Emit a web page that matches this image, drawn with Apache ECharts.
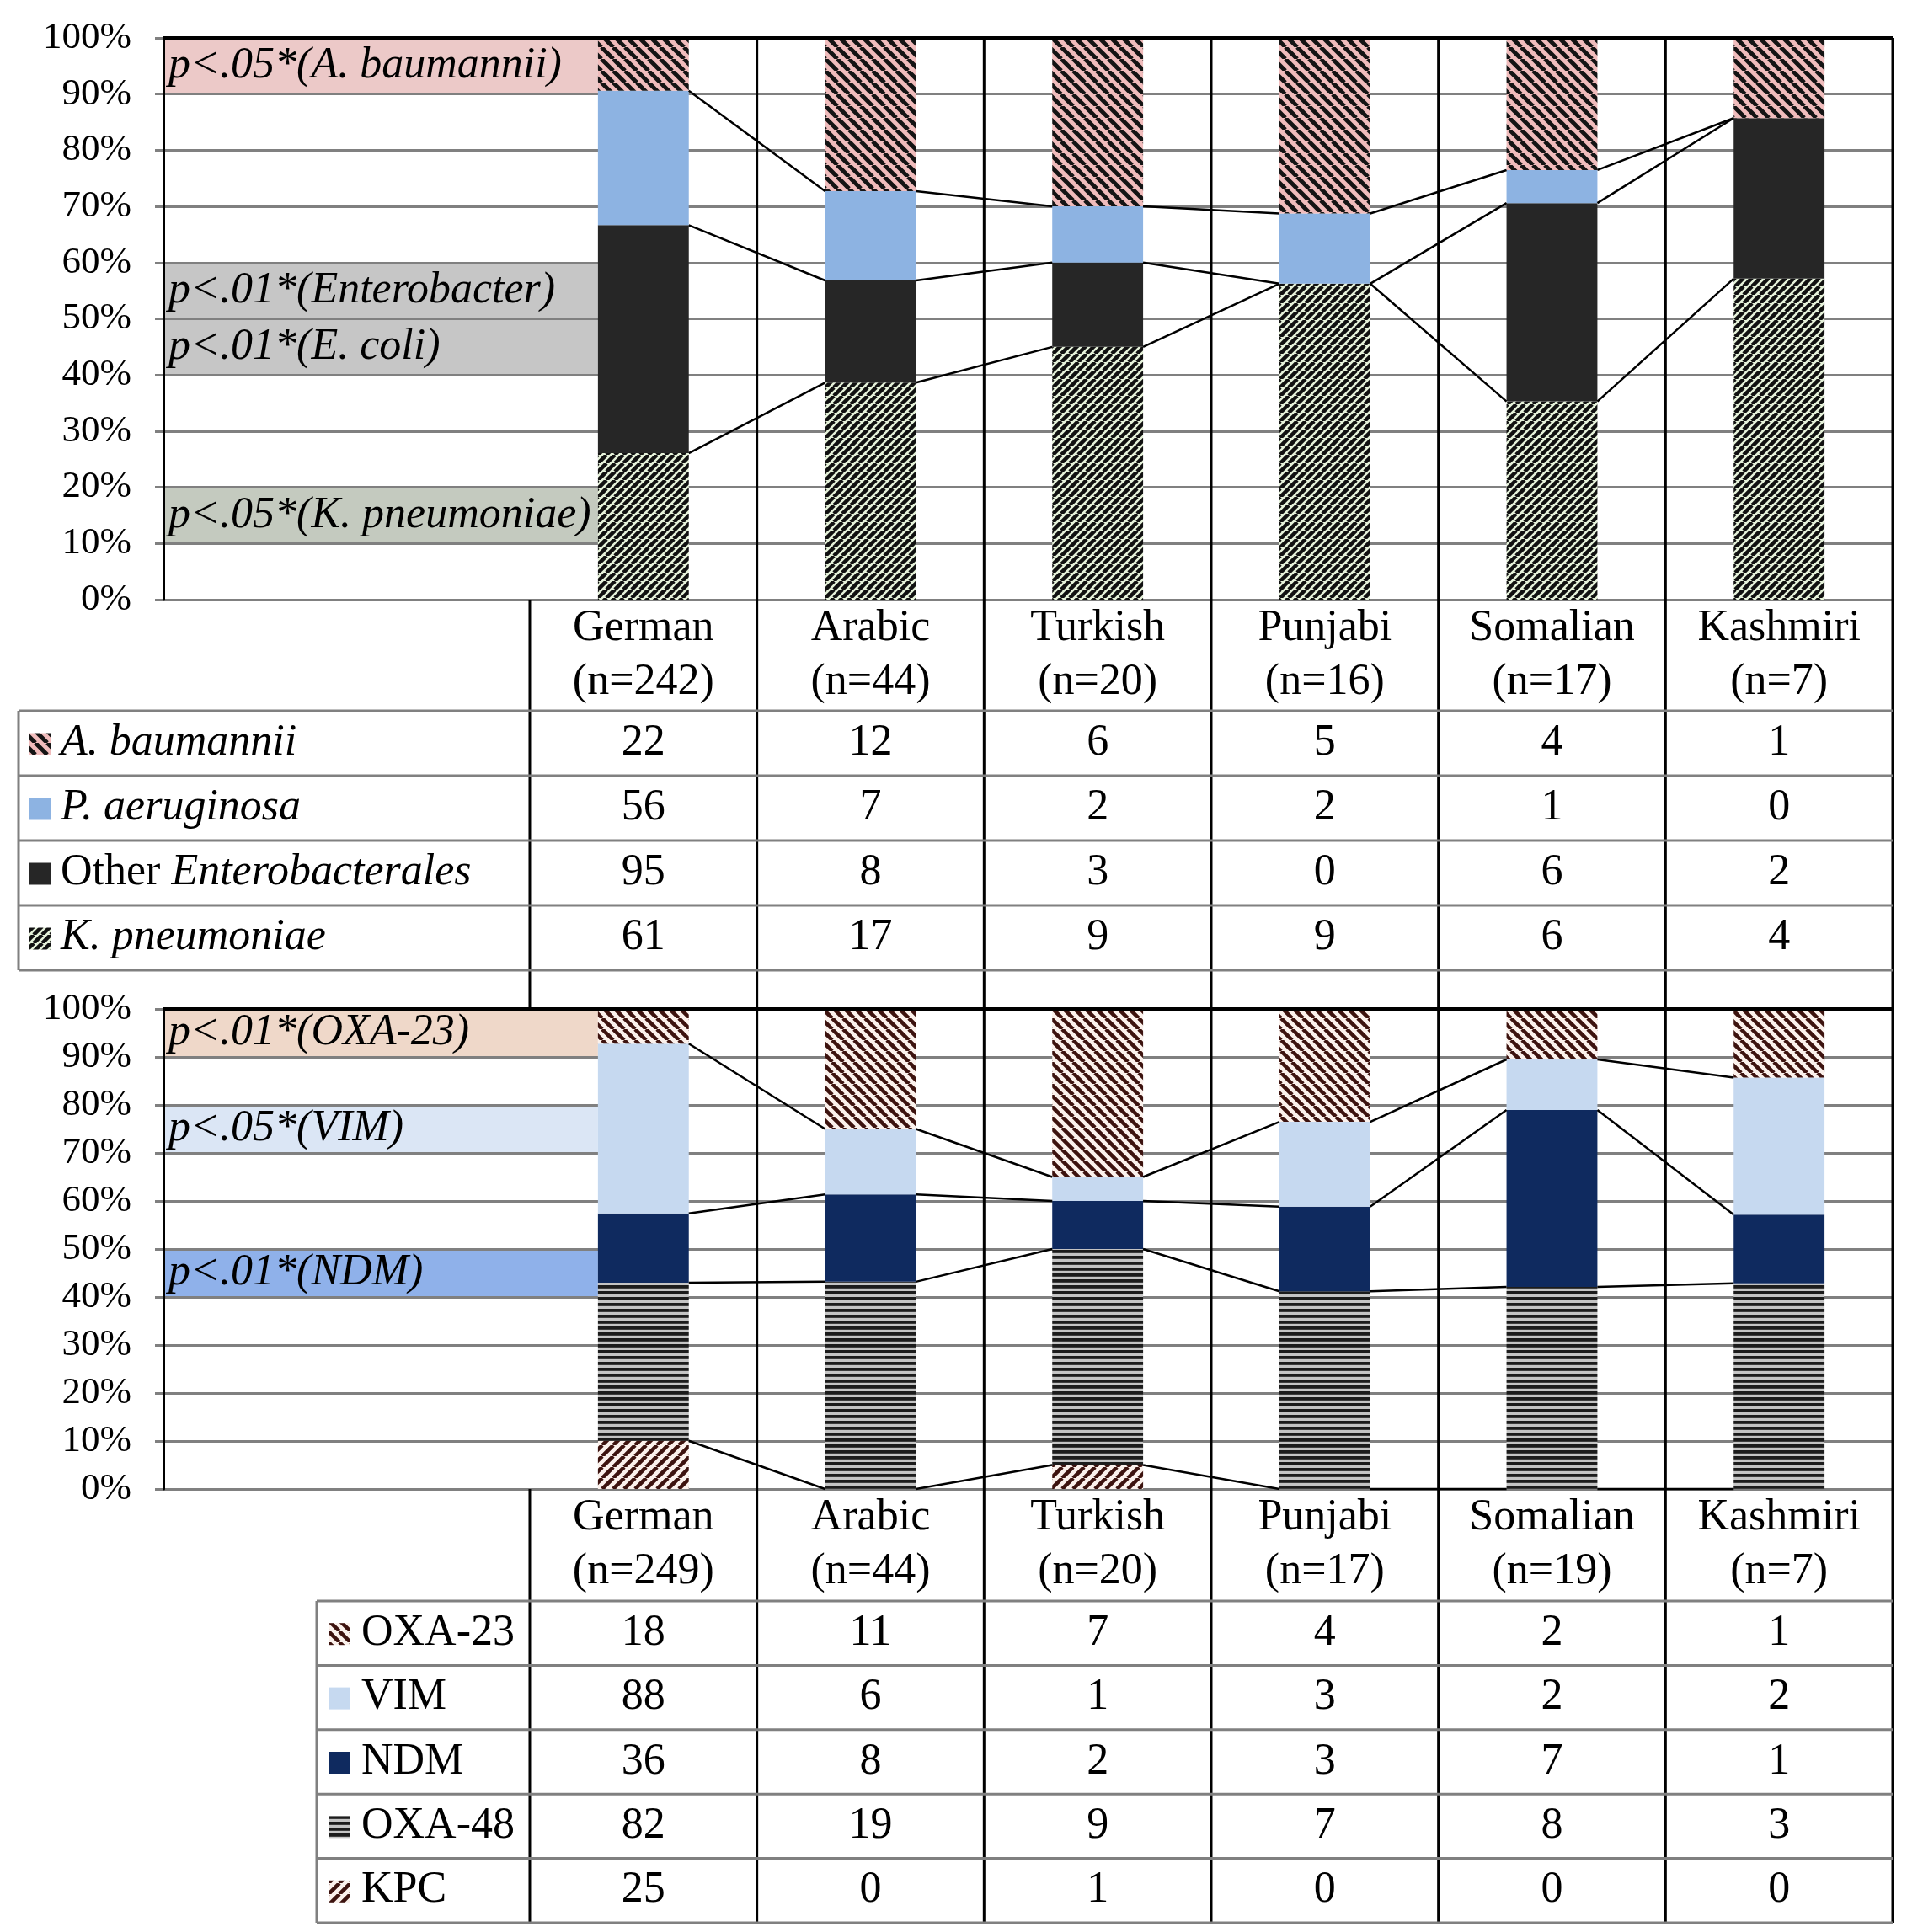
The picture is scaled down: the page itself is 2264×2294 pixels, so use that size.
<!DOCTYPE html>
<html>
<head>
<meta charset="utf-8">
<title>Species and carbapenemases by language group</title>
<script src="https://cdn.jsdelivr.net/npm/echarts@6/dist/echarts.min.js"></script>
<style>
  html, body { margin: 0; padding: 0; background: #fff; }
  #main { width: 2264px; height: 2294px; }
</style>
</head>
<body>
<div id="main"></div>
<script>
// ---- data: counts ----
const groups = ['German', 'Arabic', 'Turkish', 'Punjabi', 'Somalian', 'Kashmiri'];
const nSpecies = [242, 44, 20, 16, 17, 7];
const nGenes = [249, 44, 20, 17, 19, 7];

const aBaumannii = [22, 12, 6, 5, 4, 1];
const pAeruginosa = [56, 7, 2, 2, 1, 0];
const otherEntero = [95, 8, 3, 0, 6, 2];
const kPneumoniae = [61, 17, 9, 9, 6, 4];

const oxa23 = [18, 11, 7, 4, 2, 1];
const vim = [88, 6, 1, 3, 2, 2];
const ndm = [36, 8, 2, 3, 7, 1];
const oxa48 = [82, 19, 9, 7, 8, 3];
const kpc = [25, 0, 1, 0, 0, 0];

// significance notes on the left of each panel (y range in %)
const notes1Text = ['p<.05*(A. baumannii)', 'p<.01*(Enterobacter)', 'p<.01*(E. coli)', 'p<.05*(K. pneumoniae)'];
const notes1Range = [[90, 100], [50, 60], [40, 50], [10, 20]];
const notes2Text = ['p<.01*(OXA-23)', 'p<.05*(VIM)', 'p<.01*(NDM)'];
const notes2Range = [[90, 100], [70, 80], [40, 50]];

// ---- styles ----
const FONT = '"Liberation Serif", "Times New Roman", serif';
const FS = 52;          // table / note text size
const BAR = 0.4;        // bar width, share of a column
const XMIN = -1.613;    // label zone left of the first column, in column units
const GRID_GREY = '#808080';

function hatch(bg, fg, dir, s, lw) {
  const c = document.createElement('canvas');
  c.width = s; c.height = s;
  const g = c.getContext('2d');
  g.fillStyle = bg; g.fillRect(0, 0, s, s);
  if (dir === '-') {
    g.fillStyle = fg; g.fillRect(0, 0, s, lw);
  } else {
    g.strokeStyle = fg; g.lineWidth = lw;
    g.beginPath();
    for (let i = -1; i <= 1; i++) {
      if (dir === '/') { g.moveTo(i * s, s); g.lineTo(i * s + s, 0); }
      else { g.moveTo(i * s, 0); g.lineTo(i * s + s, s); }
    }
    g.stroke();
  }
  return { image: c, repeat: 'repeat' };
}

const FILL = {
  aba: hatch('#f0bcbc', '#141414', '\\', 14, 5),
  pae: '#8db3e2',
  ent: '#262626',
  kpn: hatch('#e6f2da', '#111111', '/', 10, 4.6),
  oxa23: hatch('#fbf1ec', '#3d130f', '\\', 13, 4.6),
  vim: '#c6d9f0',
  ndm: '#0f2a5f',
  oxa48: hatch('#c4c4c4', '#1c1c1c', '-', 7, 3.8),
  kpc: hatch('#fbf1ec', '#3d130f', '/', 13, 4.6)
};
const notes1Color = ['#ecc9c8', '#c6c6c6', '#c6c6c6', '#c4cabf'];
const notes2Color = ['#efd8c9', '#dbe6f5', '#8fb1ea'];

// stacks, bottom -> top
const stack1 = [kPneumoniae, otherEntero, pAeruginosa, aBaumannii];
const stack1Fill = [FILL.kpn, FILL.ent, FILL.pae, FILL.aba];
const stack2 = [kpc, oxa48, ndm, vim, oxa23];
const stack2Fill = [FILL.kpc, FILL.oxa48, FILL.ndm, FILL.vim, FILL.oxa23];

function toBands(layers) {
  const totals = groups.map((_, k) => layers.reduce((s, l) => s + l[k], 0));
  const run = groups.map(() => 0);
  return layers.map(l => {
    const lo = run.map((v, k) => 100 * v / totals[k]);
    l.forEach((v, k) => { run[k] += v; });
    const hi = run.map((v, k) => 100 * v / totals[k]);
    return { lo, hi };
  });
}

function barSeries(band, fill, g) {
  return {
    type: 'custom', xAxisIndex: g, yAxisIndex: g, z: 2, silent: true,
    data: band.lo.map((v, k) => [k + 0.5, v, band.hi[k]]),
    encode: { x: 0, y: [1, 2] },
    renderItem: (params, api) => {
      const a = api.coord([api.value(0), api.value(1)]);
      const b = api.coord([api.value(0), api.value(2)]);
      const w = api.size([BAR, 0])[0];
      return { type: 'rect', shape: { x: a[0] - w / 2, y: b[1], width: w, height: a[1] - b[1] }, style: { fill: fill } };
    }
  };
}

// Excel-style series lines between neighbouring bars
function linkSeries(bands, g) {
  const data = [];
  bands.slice(0, -1).forEach(b => {
    for (let k = 0; k < b.hi.length - 1; k++) data.push([k + 0.5, b.hi[k], k + 1.5, b.hi[k + 1]]);
  });
  return {
    type: 'custom', xAxisIndex: g, yAxisIndex: g, z: 3, silent: true,
    data: data, encode: { x: [0, 2], y: [1, 3] },
    renderItem: (params, api) => {
      const a = api.coord([api.value(0), api.value(1)]);
      const b = api.coord([api.value(2), api.value(3)]);
      const hw = api.size([BAR, 0])[0] / 2;
      return { type: 'line', shape: { x1: a[0] + hw, y1: a[1], x2: b[0] - hw, y2: b[1] },
        style: { stroke: '#000', lineWidth: 2.5 } };
    }
  };
}

function noteSeries(ranges, texts, colors, g) {
  return {
    type: 'custom', xAxisIndex: g, yAxisIndex: g, z: -1, silent: true,
    data: ranges.map(r => [XMIN, r[0], r[1]]), encode: { x: 0, y: [1, 2] },
    renderItem: (params, api) => {
      const lo = api.coord([api.value(0), api.value(1)]);
      const hi = api.coord([0.5 - BAR / 2, api.value(2)]);
      const i = params.dataIndex;
      return { type: 'group', children: [
        { type: 'rect', shape: { x: lo[0], y: hi[1], width: hi[0] - lo[0], height: lo[1] - hi[1] },
          style: { fill: colors[i] } },
        { type: 'text', style: { text: texts[i], x: lo[0] + 6, y: (lo[1] + hi[1]) / 2,
          font: 'italic ' + FS + 'px ' + FONT, fill: '#000', align: 'left', verticalAlign: 'middle' } }
      ] };
    }
  };
}

function yAxis(g) {
  return {
    type: 'value', gridIndex: g, min: 0, max: 100, interval: 10,
    axisLine: { show: true, onZero: false, lineStyle: { color: '#000', width: 3 } },
    axisTick: { show: true, length: 10, lineStyle: { color: GRID_GREY, width: 3 } },
    axisLabel: { formatter: '{value}%', fontFamily: FONT, fontSize: 45, color: '#000', margin: 38 },
    splitLine: { lineStyle: { color: GRID_GREY, width: 3 } }
  };
}

const bands1 = toBands(stack1);
const bands2 = toBands(stack2);

const chart = echarts.init(document.getElementById('main'));
chart.setOption({
  animation: false,
  backgroundColor: '#fff',
  grid: [
    { left: 194, right: 17, top: 45, height: 667 },
    { left: 194, right: 17, top: 1198, height: 570 }
  ],
  xAxis: [
    { type: 'value', gridIndex: 0, min: XMIN, max: 6, show: false },
    { type: 'value', gridIndex: 1, min: XMIN, max: 6, show: false }
  ],
  yAxis: [yAxis(0), yAxis(1)],
  series: [].concat(
    bands1.map((b, i) => barSeries(b, stack1Fill[i], 0)),
    bands2.map((b, i) => barSeries(b, stack2Fill[i], 1)),
    [linkSeries(bands1, 0), linkSeries(bands2, 1),
     noteSeries(notes1Range, notes1Text, notes1Color, 0),
     noteSeries(notes2Range, notes2Text, notes2Color, 1)]
  )
});

// ---- tables and frame lines, placed on the chart's own x scale ----
const xp = (g, v) => chart.convertToPixel({ xAxisIndex: g }, v);
const yp = (g, v) => chart.convertToPixel({ yAxisIndex: g }, v);
const els = [];
function line(x1, y1, x2, y2, stroke, w) {
  els.push({ type: 'line', silent: true, z: 10, shape: { x1, y1, x2, y2 }, style: { stroke, lineWidth: w } });
}
function text(x, y, str, extra) {
  els.push({ type: 'text', silent: true, z: 11, style: Object.assign({
    text: str, x, y, font: FS + 'px ' + FONT, fill: '#000', align: 'center', verticalAlign: 'middle'
  }, extra || {}) });
}
const RICH = {
  n: { fontFamily: FONT, fontSize: FS, fontStyle: 'normal' },
  i: { fontFamily: FONT, fontSize: FS, fontStyle: 'italic' }
};

const T1 = { top: 712, head: 132, row: 77, left: 22, keyX: 35, textX: 72 };
const T2 = { top: 1768, head: 133, row: 76.4, left: 376, keyX: 390, textX: 429 };
const rows1 = [
  { label: '{i|A. baumannii}', values: aBaumannii, fill: FILL.aba },
  { label: '{i|P. aeruginosa}', values: pAeruginosa, fill: FILL.pae },
  { label: '{n|Other }{i|Enterobacterales}', values: otherEntero, fill: FILL.ent },
  { label: '{i|K. pneumoniae}', values: kPneumoniae, fill: FILL.kpn }
];
const rows2 = [
  { label: '{n|OXA-23}', values: oxa23, fill: FILL.oxa23 },
  { label: '{n|VIM}', values: vim, fill: FILL.vim },
  { label: '{n|NDM}', values: ndm, fill: FILL.ndm },
  { label: '{n|OXA-48}', values: oxa48, fill: FILL.oxa48 },
  { label: '{n|KPC}', values: kpc, fill: FILL.kpc }
];
const tableBottom = T2.top + T2.head + rows2.length * T2.row;

function table(t, rows, nArr, g) {
  const right = xp(g, 6);
  groups.forEach((name, k) => {
    text(xp(g, k + 0.5), t.top + t.head / 2, name + '\n(n=' + nArr[k] + ')', { lineHeight: 64 });
  });
  const y0 = t.top + t.head;
  for (let r = 0; r <= rows.length; r++) line(t.left, y0 + r * t.row, right, y0 + r * t.row, GRID_GREY, 3);
  line(t.left, y0, t.left, y0 + rows.length * t.row, GRID_GREY, 3);
  rows.forEach((row, r) => {
    const yc = y0 + r * t.row + t.row / 2;
    els.push({ type: 'rect', silent: true, z: 11, shape: { x: t.keyX, y: yc - 12, width: 26, height: 26 },
      style: { fill: row.fill } });
    els.push({ type: 'text', silent: true, z: 11, style: { text: row.label, rich: RICH, x: t.textX, y: yc,
      fill: '#000', align: 'left', verticalAlign: 'middle' } });
    row.values.forEach((v, k) => text(xp(g, k + 0.5), yc, String(v)));
  });
}

// column lines run through both panels and tables
for (let k = 1; k <= 6; k++) line(xp(0, k), yp(0, 100), xp(0, k), tableBottom, '#000', 3);
line(xp(0, 0), yp(0, 0), xp(0, 0), yp(1, 100), '#000', 3);
line(xp(1, 0), yp(1, 0), xp(1, 0), tableBottom, '#000', 3);
// top frame of each panel
[0, 1].forEach(g => line(xp(g, XMIN), yp(g, 100), xp(g, 6), yp(g, 100), '#000', 4));

table(T1, rows1, nSpecies, 0);
table(T2, rows2, nGenes, 1);

chart.setOption({ graphic: { elements: els } });
</script>
</body>
</html>
